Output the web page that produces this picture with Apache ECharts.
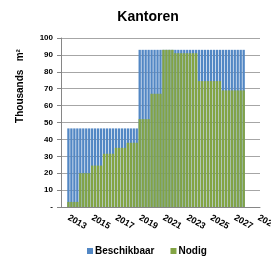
<!DOCTYPE html>
<html>
<head>
<meta charset="utf-8">
<script src="https://cdn.jsdelivr.net/npm/echarts@6/dist/echarts.min.js"></script>
<style>
  html, body { margin: 0; padding: 0; background: #fff; }
  #chart { width: 271px; height: 262px; }
</style>
</head>
<body>
<div id="chart"></div>
<script>
    'use strict';
    // yearly values, thousands m2
    var years = [2013, 2014, 2015, 2016, 2017, 2018, 2019, 2020, 2021, 2022, 2023, 2024, 2025, 2026, 2027];
    var beschikbaar = [46.5, 46.5, 46.5, 46.5, 46.5, 46.5, 93, 93, 93, 93, 93, 93, 93, 93, 93];
    var nodig = [3, 20, 24.5, 31.5, 35, 38, 52, 67, 93, 91, 91, 74.5, 74.5, 69, 69];
    var yTicks = [0, 10, 20, 30, 40, 50, 60, 70, 80, 90, 100];
    var quarters = ['Q1', 'Q2', 'Q3', 'Q4'];

    var font = 'Liberation Sans';

    // chart is drawn per quarter: each year value shown for its 4 quarters
    var cats = ['2012 Q3', '2012 Q4'];
    var blue = [null, null];
    var green = [null, null];
    years.forEach(function (y, i) {
        quarters.forEach(function (q) {
            cats.push(y + ' ' + q);
            blue.push(beschikbaar[i]);
            green.push(nodig[i]);
        });
    });
    ['2028 Q1', '2028 Q2', '2028 Q3', '2028 Q4', '2029 Q1'].forEach(function (c) {
        cats.push(c);
        blue.push(null);
        green.push(null);
    });

    var chart = echarts.init(document.getElementById('chart'), null, {renderer: 'canvas'});
    chart.setOption({
        animation: false,
        color: ['#5287C4', '#83A444'],
        title: {
            text: 'Kantoren',
            left: 143,
            textAlign: 'center',
            top: 5,
            textStyle: {fontFamily: font, fontWeight: 'bold', fontSize: 14, color: '#000'}
        },
        grid: {left: 61, right: 11, top: 38, bottom: 55, outerBoundsMode: 'none'},
        legend: {
            bottom: 1,
            left: 82,
            icon: 'rect',
            itemWidth: 6,
            itemHeight: 6,
            itemGap: 16,
            textStyle: {fontFamily: font, fontWeight: 'bold', fontSize: 10, color: '#000', padding: [0, 0, 0, -3]},
            data: ['Beschikbaar', 'Nodig']
        },
        graphic: [{
            type: 'text',
            x: 20,
            y: 86,
            rotation: Math.PI / 2,
            style: {
                text: 'Thousands   m²',
                fontFamily: font,
                fontWeight: 'bold',
                fontSize: 10,
                fill: '#000',
                align: 'center',
                verticalAlign: 'middle'
            }
        }],
        xAxis: {
            type: 'category',
            data: cats,
            boundaryGap: true,
            axisLine: {lineStyle: {color: '#868686'}},
            axisTick: {interval: 0, length: 3, lineStyle: {color: '#868686'}},
            axisLabel: {
                interval: function (i) { return (i - 2) % 8 === 0; },
                rotate: -30,
                margin: 10,
                fontFamily: font,
                fontWeight: 'bold',
                fontSize: 9,
                color: '#000',
                formatter: function (v) { return v.slice(0, 4); }
            }
        },
        yAxis: {
            type: 'value',
            min: yTicks[0],
            max: yTicks[yTicks.length - 1],
            interval: 10,
            axisLine: {show: true, lineStyle: {color: '#868686'}},
            axisTick: {show: true, length: 4, lineStyle: {color: '#868686'}},
            splitLine: {lineStyle: {color: '#A6A6A6'}},
            axisLabel: {
                margin: 8,
                fontFamily: font,
                fontWeight: 'bold',
                fontSize: 8,
                color: '#000',
                formatter: function (v) { return v === 0 ? '-' : String(v); }
            }
        },
        series: [{
            name: 'Beschikbaar',
            type: 'bar',
            data: blue,
            barGap: '-100%',
            barCategoryGap: '22%'
        }, {
            name: 'Nodig',
            type: 'bar',
            data: green,
            barGap: '-100%',
            barCategoryGap: '22%'
        }]
    });
</script>
</body>
</html>
